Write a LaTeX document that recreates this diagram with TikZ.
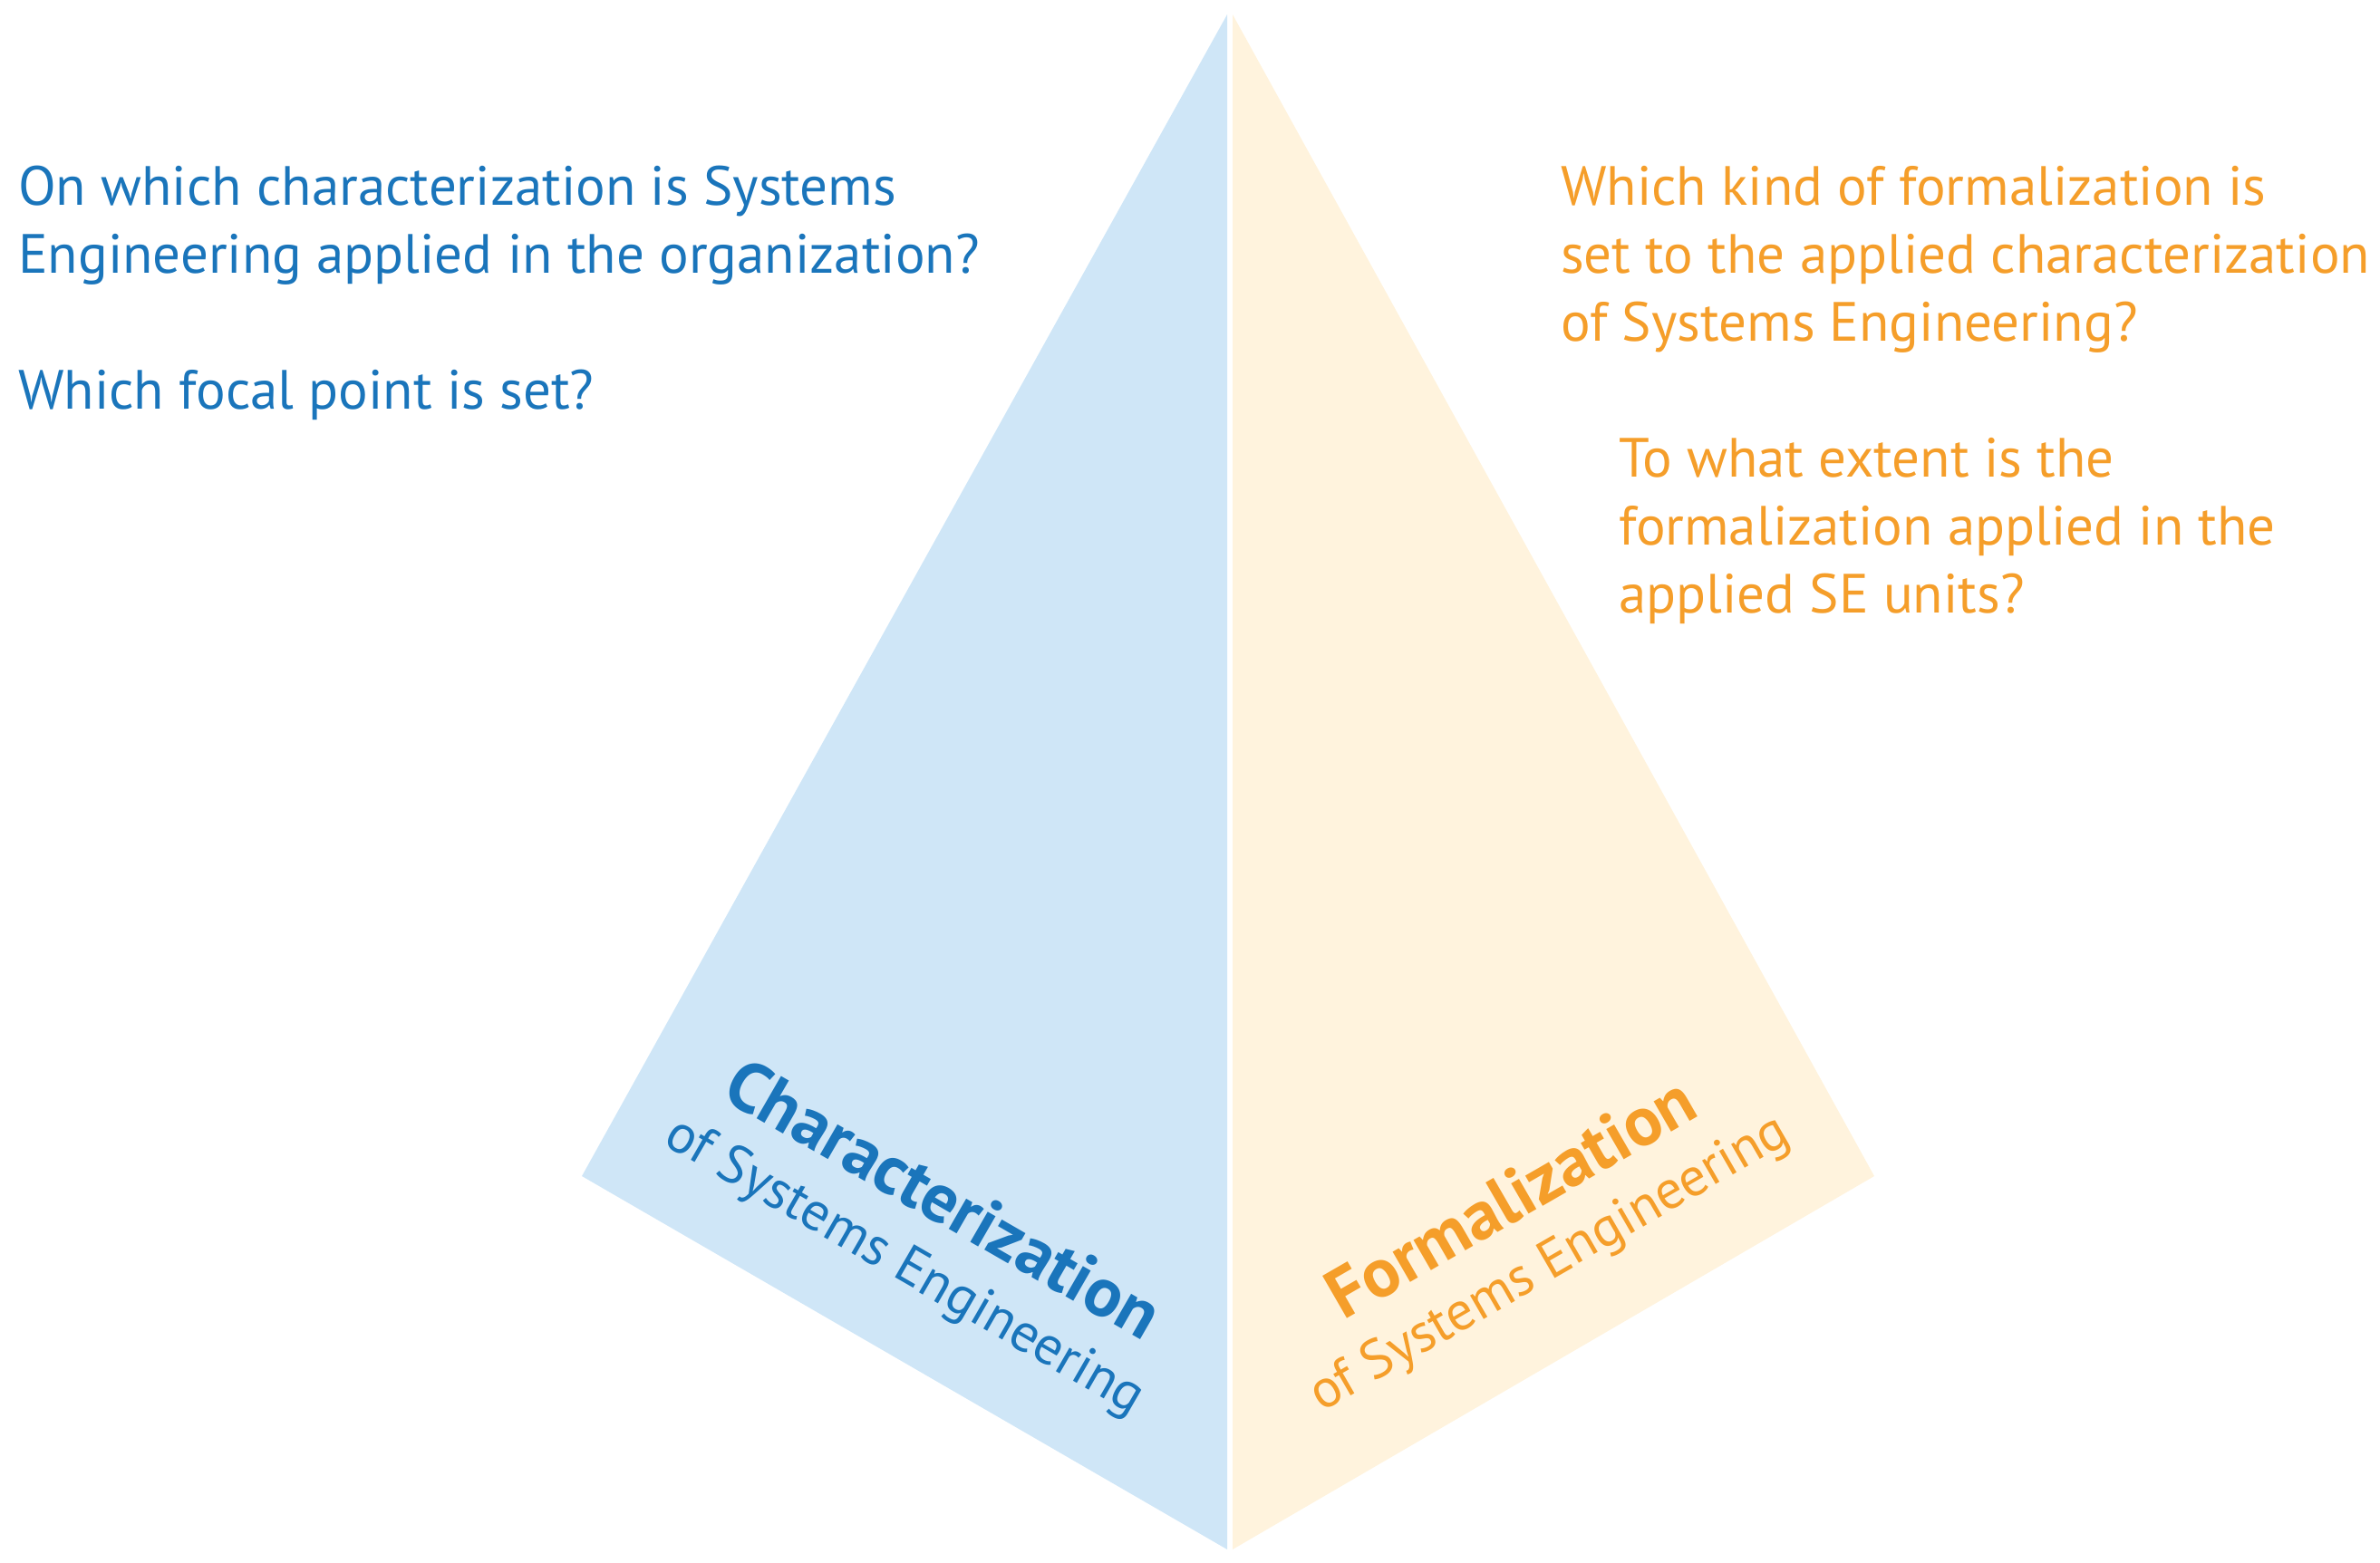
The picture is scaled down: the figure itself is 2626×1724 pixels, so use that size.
\documentclass[tikz,border=0pt]{standalone}
\usepackage{fontspec}
\setmainfont{PT Sans}
\definecolor{seblue}{HTML}{1A75BB}
\definecolor{seorange}{HTML}{F59E2A}
\definecolor{bluefill}{HTML}{CFE6F7}
\definecolor{creamfill}{HTML}{FFF3DD}
\begin{document}
\begin{tikzpicture}[x=1pt,y=-1pt,
  qtext/.style={inner sep=0pt, anchor=base west, font=\fontsize{61}{73}\selectfont},
  bigtext/.style={inner sep=0pt, anchor=base, font=\fontsize{77}{90}\selectfont\bfseries},
  subtext/.style={inner sep=0pt, anchor=base, font=\fontsize{60}{72}\selectfont}]
\useasboundingbox (0,0) rectangle (2626,1724);
\fill[bluefill] (1354,16) -- (642,1298) -- (1354,1710) -- cycle;
\fill[creamfill] (1360,16) -- (2068,1298) -- (1360,1710) -- cycle;

\node[qtext, text=seblue] (l1) at (20,226) {On which characterization is Systems};
\node[qtext, text=seblue] (l2) at (20,301) {Engineering applied in the organization?};
\node[qtext, text=seblue] (l3) at (20,451) {Which focal point is set?};

\node[qtext, text=seorange] (r1) at (1722,226) {Which kind of formalization is};
\node[qtext, text=seorange] (r2) at (1722,301) {set to the applied characterization};
\node[qtext, text=seorange] (r3) at (1722,376) {of Systems Engineering?};
\node[qtext, text=seorange] (r4) at (1786,526) {To what extent is the};
\node[qtext, text=seorange] (r5) at (1786,601) {formalization applied in the};
\node[qtext, text=seorange] (r6) at (1786,676) {applied SE units?};

\node[bigtext, text=seblue, rotate=-30] (charlab) at (1028,1346) {Characterization};
\node[subtext, text=seblue, rotate=-30] (charsub) at (990,1412) {of Systems Engineering};
\node[bigtext, text=seorange, rotate=30] (formlab) at (1680,1344) {Formalization};
\node[subtext, text=seorange, rotate=30] (formsub) at (1718,1409) {of Systems Engineering};
\end{tikzpicture}
\end{document}
